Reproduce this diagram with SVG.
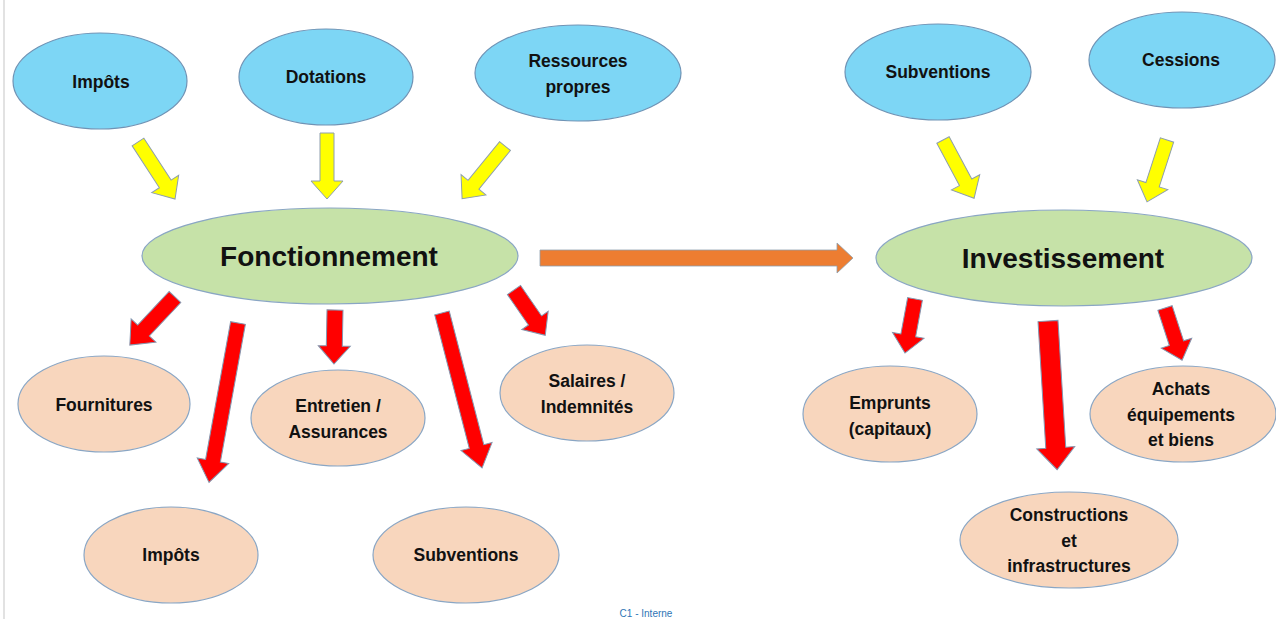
<svg xmlns="http://www.w3.org/2000/svg" width="1276" height="619" viewBox="0 0 1276 619">
<style>
text{font-family:"Liberation Sans",Arial,sans-serif;font-weight:bold;fill:#111;text-anchor:middle}
.lbl{font-size:17.5px}
.big{font-size:28px}
.src{fill:#7DD6F5;stroke:#6f93b5;stroke-width:1.2}
.hub{fill:#C6E2A8;stroke:#8aa6c4;stroke-width:1.2}
.use{fill:#F8D6BD;stroke:#8aa6c4;stroke-width:1.2}
.ya{fill:#FFFF00;stroke:#8e9fae;stroke-width:1}
.ra{fill:#FF0000;stroke:#8497b0;stroke-width:1}
.oa{fill:#ED7D31;stroke:#8e9fae;stroke-width:0.8}
.note{font-size:10px;font-weight:normal;fill:#2E75B6}
</style>
<rect width="1276" height="619" fill="#ffffff"/>
<line x1="4" y1="0" x2="4" y2="619" stroke="#e2e2e2" stroke-width="2"/>
<g id="connectors">
<polygon class="ya" transform="translate(138,142) rotate(57)" points="0,-7 50,-7 50,-16 68,0 50,16 50,7 0,7"/>
<polygon class="ya" transform="translate(327,133) rotate(90)" points="0,-7 48,-7 48,-16 66,0 48,16 48,7 0,7"/>
<polygon class="ya" transform="translate(505,146) rotate(129.1)" points="0,-7 50,-7 50,-16 68,0 50,16 50,7 0,7"/>
<polygon class="ya" transform="translate(943,140) rotate(61.9)" points="0,-7 48,-7 48,-16 66,0 48,16 48,7 0,7"/>
<polygon class="ya" transform="translate(1167,140) rotate(107.9)" points="0,-7 47,-7 47,-16 65,0 47,16 47,7 0,7"/>
<polygon class="oa" transform="translate(540,258)" points="0,-8 297,-8 297,-15 313,0 297,15 297,8 0,8"/>
<polygon class="ra" transform="translate(175,297) rotate(133.2)" points="0,-8 46,-8 46,-17 66,0 46,17 46,8 0,8"/>
<polygon class="ra" transform="translate(238,323) rotate(100.3)" points="0,-7.5 140,-7.5 140,-16 162,0 140,16 140,7.5 0,7.5"/>
<polygon class="ra" transform="translate(335,310) rotate(91.1)" points="0,-8 36,-8 36,-16 54,0 36,16 36,8 0,8"/>
<polygon class="ra" transform="translate(442,313) rotate(75.5)" points="0,-7.5 138,-7.5 138,-16 160,0 138,16 138,7.5 0,7.5"/>
<polygon class="ra" transform="translate(514,290) rotate(55.4)" points="0,-8 37,-8 37,-16 55,0 37,16 37,8 0,8"/>
<polygon class="ra" transform="translate(915,299) rotate(100.5)" points="0,-7.5 37,-7.5 37,-16 55,0 37,16 37,7.5 0,7.5"/>
<polygon class="ra" transform="translate(1048,321) rotate(86.5)" points="0,-10 127,-10 127,-19 149,0 127,19 127,10 0,10"/>
<polygon class="ra" transform="translate(1165,308) rotate(71.9)" points="0,-7.5 37,-7.5 37,-16 55,0 37,16 37,7.5 0,7.5"/>
</g>
<g id="src-impots"><ellipse class="src" cx="100" cy="81" rx="87" ry="48"/><text class="lbl" x="101" y="88">Impôts</text></g>
<g id="src-dotations"><ellipse class="src" cx="326" cy="77" rx="87" ry="48"/><text class="lbl" x="326" y="83">Dotations</text></g>
<g id="src-ressources"><ellipse class="src" cx="578" cy="73" rx="103" ry="48"/><text class="lbl" x="578" y="67">Ressources</text><text class="lbl" x="578" y="93">propres</text></g>
<g id="src-subventions"><ellipse class="src" cx="938" cy="72" rx="93" ry="48"/><text class="lbl" x="938" y="78">Subventions</text></g>
<g id="src-cessions"><ellipse class="src" cx="1182" cy="60" rx="93" ry="48"/><text class="lbl" x="1181" y="66">Cessions</text></g>
<g id="fonctionnement"><ellipse class="hub" cx="330" cy="256" rx="188" ry="48"/><text class="big" x="329" y="266">Fonctionnement</text></g>
<g id="investissement"><ellipse class="hub" cx="1064" cy="258" rx="188" ry="48"/><text class="big" x="1063" y="268">Investissement</text></g>
<g id="fournitures"><ellipse class="use" cx="104" cy="404" rx="86" ry="48"/><text class="lbl" x="104" y="411">Fournitures</text></g>
<g id="entretien"><ellipse class="use" cx="338" cy="418" rx="87" ry="48"/><text class="lbl" x="338" y="412">Entretien /</text><text class="lbl" x="338" y="438">Assurances</text></g>
<g id="salaires"><ellipse class="use" cx="587" cy="393" rx="87" ry="48"/><text class="lbl" x="587" y="387">Salaires /</text><text class="lbl" x="587" y="413">Indemnités</text></g>
<g id="impots-dep"><ellipse class="use" cx="171" cy="555" rx="87" ry="48"/><text class="lbl" x="171" y="561">Impôts</text></g>
<g id="subventions-dep"><ellipse class="use" cx="466" cy="555" rx="93" ry="48"/><text class="lbl" x="466" y="561">Subventions</text></g>
<g id="emprunts"><ellipse class="use" cx="890" cy="414" rx="87" ry="48"/><text class="lbl" x="890" y="409">Emprunts</text><text class="lbl" x="890" y="435">(capitaux)</text></g>
<g id="achats"><ellipse class="use" cx="1183" cy="414" rx="93" ry="48"/><text class="lbl" x="1181" y="395">Achats</text><text class="lbl" x="1181" y="421">équipements</text><text class="lbl" x="1181" y="446">et biens</text></g>
<g id="constructions"><ellipse class="use" cx="1069" cy="540" rx="109" ry="48"/><text class="lbl" x="1069" y="521">Constructions</text><text class="lbl" x="1069" y="547">et</text><text class="lbl" x="1069" y="572">infrastructures</text></g>
<text class="note" x="646" y="617">C1 - Interne</text>
</svg>
